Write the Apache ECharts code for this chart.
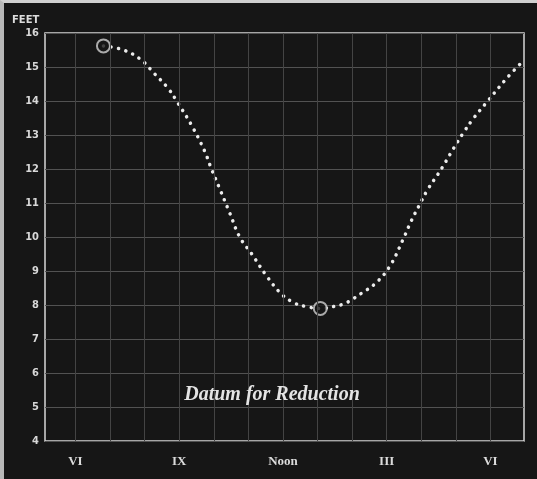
<!DOCTYPE html>
<html>
<head>
<meta charset="utf-8">
<script src="https://cdn.jsdelivr.net/npm/echarts@6/dist/echarts.min.js"></script>
<style>
  html, body {
    margin: 0;
    padding: 0;
    background: #c8c8c8;
  }
  #chart {
    width: 537px;
    height: 479px;
    box-sizing: border-box;
    border-top: 3px solid #d0d0d0;
    border-left: 4px solid #b8b8b8;
    background: #161616;
  }
</style>
</head>
<body>
<div id="chart"></div>
<script>
// tide curve, hours of the day vs feet
const hours = [6.81, 7.39, 7.89, 8.27, 8.68, 8.97, 9.35, 9.73, 9.93, 10.16, 10.46, 10.75, 11.10, 11.53,
  11.97, 12.35, 12.64, 13.08, 13.49, 13.78, 14.01, 14.25, 14.68, 15.09, 15.47, 15.70, 15.96, 16.20,
  16.49, 16.64, 16.93, 17.22, 17.51, 17.89, 18.47, 18.91]
const feet = [15.62, 15.50, 15.22, 14.82, 14.37, 13.93, 13.30, 12.54, 12.01, 11.45, 10.71, 10.00, 9.50, 8.85,
  8.31, 8.05, 7.96, 7.90, 7.96, 8.04, 8.17, 8.33, 8.64, 9.14, 9.92, 10.45, 10.97, 11.42,
  11.86, 12.10, 12.60, 13.07, 13.49, 13.96, 14.67, 15.14]

// high and low water marks
const markHours = [6.81, 13.08]
const markFeet = [15.62, 7.90]

// axis labels
const tickHours = [6, 9, 12, 15, 18]
const tickLabels = ['VI', 'IX', 'Noon', 'III', 'VI']
const gridHours = [6, 7, 8, 9, 10, 11, 12, 13, 14, 15, 16, 17, 18]

const chart = echarts.init(document.getElementById('chart'), null, {renderer: 'canvas'})

let option = {
  backgroundColor: '#161616',
  animation: false,
  grid: {
    left: 41,
    top: 30,
    right: 13,
    bottom: 38,
    show: true,
    borderColor: '#d6d6d6',
    borderWidth: 1.5,
    backgroundColor: 'transparent'
  },
  xAxis: {
    type: 'value',
    min: 5.12,
    max: 18.97,
    axisLine: {show: false},
    axisTick: {show: false},
    splitLine: {show: false},
    axisLabel: {
      customValues: tickHours,
      formatter: v => tickLabels[tickHours.indexOf(v)],
      color: '#dcdcdc',
      fontFamily: 'Liberation Serif',
      fontWeight: 'bold',
      fontSize: 13,
      margin: 14
    }
  },
  yAxis: {
    type: 'value',
    min: 4,
    max: 16,
    interval: 1,
    axisLine: {show: false},
    axisTick: {show: false},
    splitLine: {
      lineStyle: {color: '#525252', width: 1}
    },
    axisLabel: {
      color: '#d8d8d8',
      fontFamily: 'DejaVu Sans Condensed',
      fontWeight: 'bold',
      fontSize: 11,
      margin: 6
    }
  },
  graphic: [
    {
      type: 'text',
      left: 8,
      top: 12,
      style: {
        text: 'FEET',
        fill: '#dcdcdc',
        font: 'bold 10px "DejaVu Sans"'
      }
    },
    {
      type: 'text',
      x: 268,
      y: 392,
      z: 10,
      style: {
        text: 'Datum for Reduction',
        fill: '#e4e4e4',
        font: 'italic bold 20px "Liberation Serif"',
        align: 'center',
        verticalAlign: 'middle'
      }
    }
  ],
  series: [
    {
      type: 'line',
      data: [],
      silent: true,
      markLine: {
        silent: true,
        symbol: 'none',
        label: {show: false},
        lineStyle: {color: '#444444', width: 1, type: 'solid'},
        data: gridHours.map(h => ({xAxis: h}))
      }
    },
    {
      type: 'line',
      data: hours.map((h, i) => [h, feet[i]]),
      smooth: 0.4,
      showSymbol: false,
      lineStyle: {
        color: '#ececec',
        width: 3.5,
        type: [0.1, 7.5],
        cap: 'round'
      },
      z: 3
    },
    {
      type: 'scatter',
      data: markHours.map((h, i) => [h, markFeet[i]]),
      symbol: 'circle',
      symbolSize: 13,
      itemStyle: {
        color: '#161616',
        borderColor: '#cfcfcf',
        borderWidth: 2
      },
      z: 4
    }
  ]
}
chart.setOption(option)
</script>
</body>
</html>
